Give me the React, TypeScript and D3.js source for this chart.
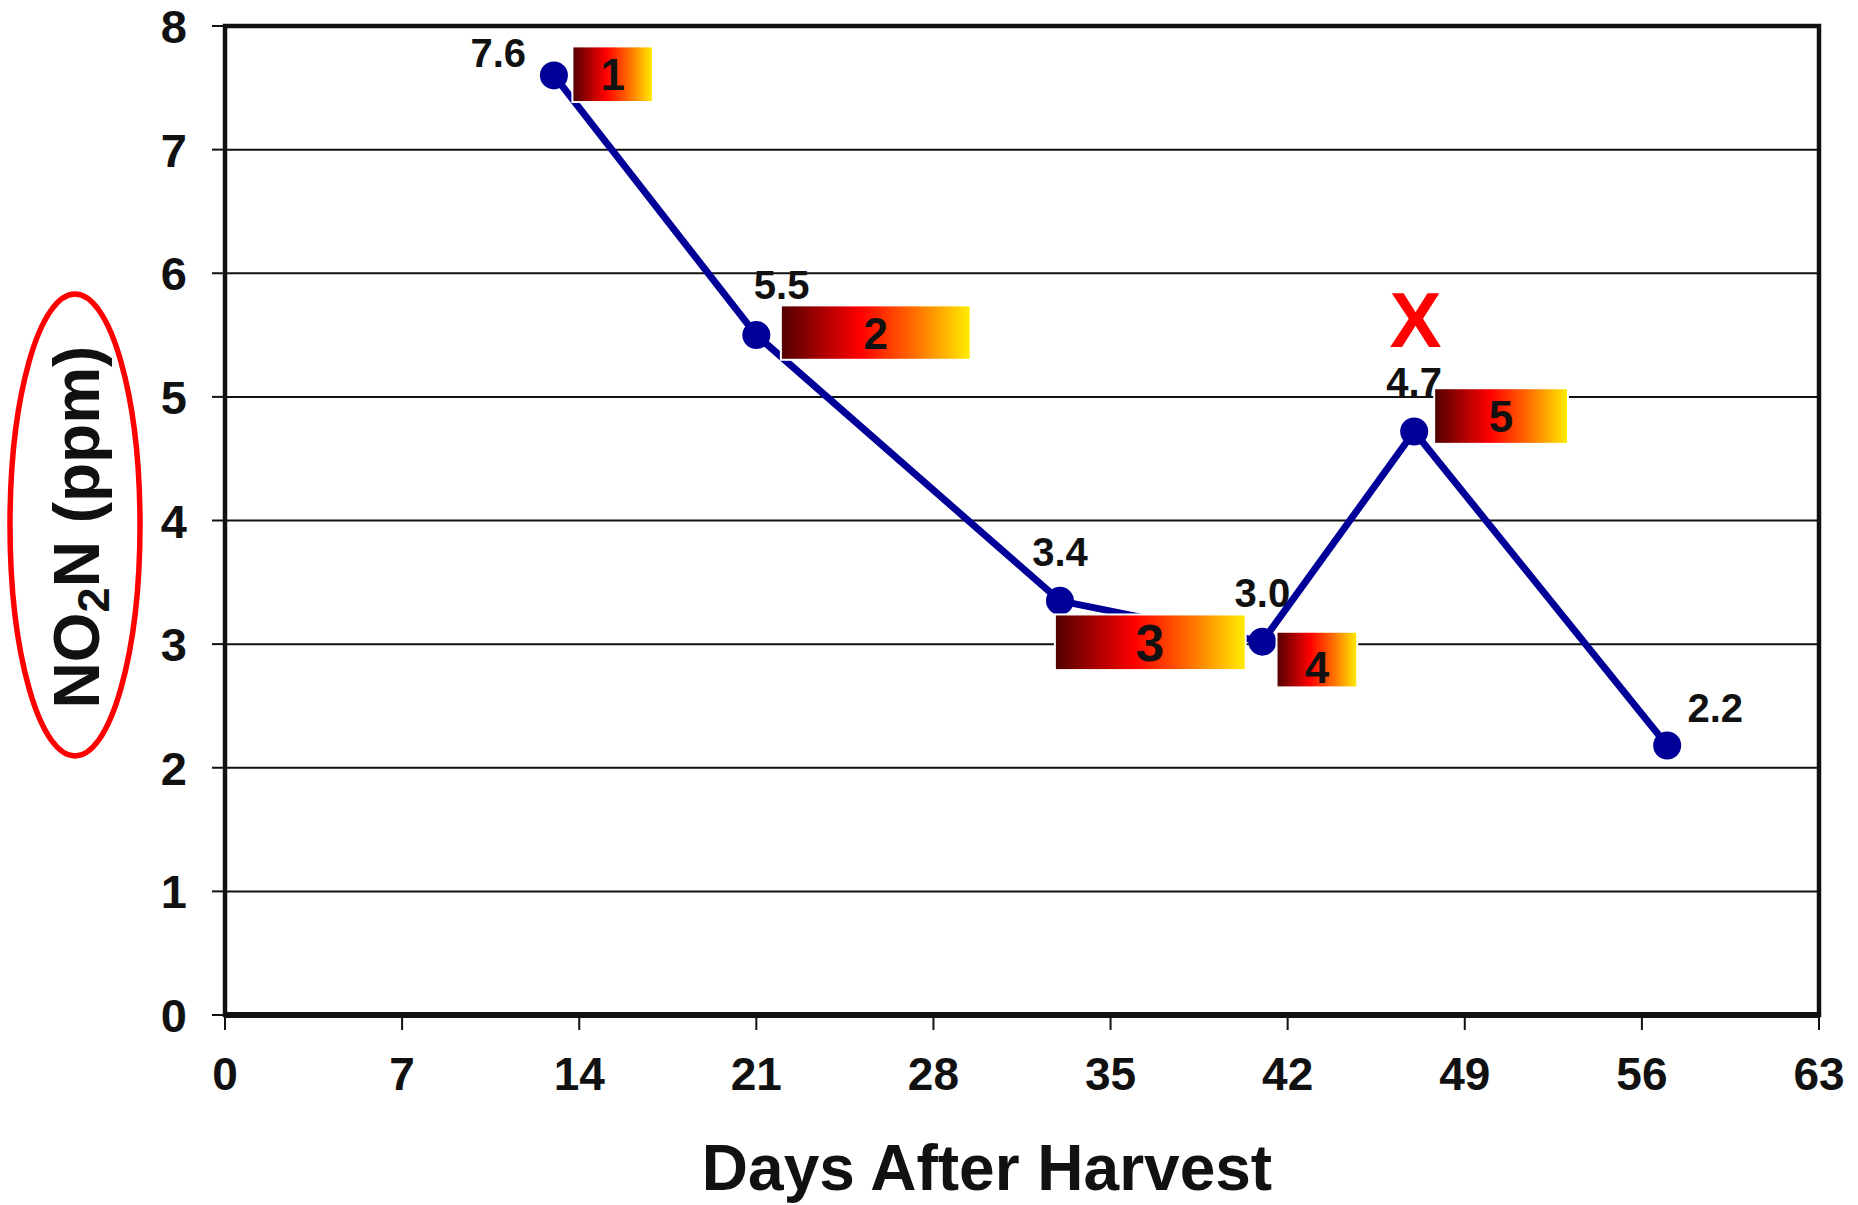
import * as d3 from "d3";

// NO2-N readings after harvest
const days = [13, 21, 33, 41, 47, 57];
const no2n = [7.6, 5.5, 3.35, 3.02, 4.72, 2.18];
const valueLabels = ["7.6", "5.5", "3.4", "3.0", "4.7", "2.2"];
// where each value label sits (data units)
const labelDays = [10.8, 22.0, 33.0, 41.0, 47.0, 58.9];
const labelPpm = [7.67, 5.79, 3.63, 3.3, 5.01, 2.37];

// numbered gradient boxes (data units)
const boxNames = ["1", "2", "3", "4", "5"];
const boxX0 = [13.73, 21.97, 32.8, 41.56, 47.79];
const boxX1 = [16.91, 29.47, 40.34, 44.75, 53.08];
const boxTop = [7.835, 5.74, 3.24, 3.1, 5.07];
const boxBottom = [7.385, 5.3, 2.79, 2.65, 4.62];

const xTicks = [0, 7, 14, 21, 28, 35, 42, 49, 56, 63];
const yTicks = [0, 1, 2, 3, 4, 5, 6, 7, 8];

const W = 1858;
const H = 1205;
const FONT = "'Liberation Sans', Arial, sans-serif";

export default function App() {
  const x = d3.scaleLinear().domain([0, 63]).range([225, 1819]);
  const y = d3.scaleLinear().domain([0, 8]).range([1015, 26]);

  const pts = days.map((d, i) => ({ d, v: no2n[i] }));
  const line = d3
    .line<{ d: number; v: number }>()
    .x((p) => x(p.d))
    .y((p) => y(p.v));

  return (
    <svg
      width={W}
      height={H}
      style={{ position: "absolute", left: 0, top: 0, display: "block", background: "#fff" }}
      fontFamily={FONT}
      fontWeight="bold"
    >
      <defs>
        <linearGradient id="heat" x1="0" x2="1" y1="0" y2="0">
          <stop offset="0" stopColor="#500000" />
          <stop offset="0.42" stopColor="#ff0000" />
          <stop offset="0.72" stopColor="#ff7400" />
          <stop offset="1" stopColor="#ffef00" />
        </linearGradient>
      </defs>

      {/* grid lines */}
      {yTicks.slice(1, -1).map((t) => (
        <line key={t} x1={x(0)} x2={x(63)} y1={y(t)} y2={y(t)} stroke="#111" strokeWidth={2} />
      ))}

      {/* y ticks + labels */}
      {yTicks.map((t) => (
        <g key={t}>
          <line x1={x(0) - 13} x2={x(0)} y1={y(t)} y2={y(t)} stroke="#111" strokeWidth={2} />
          <text x={x(0) - 38} y={y(t) + 17} textAnchor="end" fontSize={47} fill="#111">
            {t}
          </text>
        </g>
      ))}

      {/* x ticks + labels */}
      {xTicks.map((t) => (
        <g key={t}>
          <line x1={x(t)} x2={x(t)} y1={y(0)} y2={y(0) + 15} stroke="#111" strokeWidth={2} />
          <text x={x(t)} y={1090} textAnchor="middle" fontSize={46} fill="#111">
            {t}
          </text>
        </g>
      ))}

      {/* plot frame */}
      <rect
        x={x(0)}
        y={y(8)}
        width={x(63) - x(0)}
        height={y(0) - y(8)}
        fill="none"
        stroke="#111"
        strokeWidth={4.5}
      />
      <line x1={x(0)} x2={x(63)} y1={y(0)} y2={y(0)} stroke="#111" strokeWidth={6} />

      {/* series */}
      <path d={line(pts) ?? ""} fill="none" stroke="#000099" strokeWidth={7} />
      {pts.map((p, i) => (
        <circle key={i} cx={x(p.d)} cy={y(p.v)} r={14} fill="#000099" />
      ))}

      {/* value labels */}
      {valueLabels.map((s, i) => (
        <text key={s} x={x(labelDays[i])} y={y(labelPpm[i])} textAnchor="middle" fontSize={40} fill="#111">
          {s}
        </text>
      ))}

      {/* numbered boxes */}
      {boxNames.map((n, i) => (
        <g key={n}>
          <rect
            x={x(boxX0[i])}
            y={y(boxTop[i])}
            width={x(boxX1[i]) - x(boxX0[i])}
            height={y(boxBottom[i]) - y(boxTop[i])}
            fill="url(#heat)"
            stroke="#fff"
            strokeWidth={2}
          />
          <text
            x={(x(boxX0[i]) + x(boxX1[i])) / 2}
            y={(y(boxTop[i]) + y(boxBottom[i])) / 2 + (n === "4" ? 23 : n === "3" ? 19 : 16)}
            textAnchor="middle"
            fontSize={n === "3" ? 52 : 44}
            fill="#111"
          >
            {n}
          </text>
        </g>
      ))}

      {/* red X above the 4.7 point */}
      <text x={x(47.05)} y={y(5.4)} textAnchor="middle" fontSize={78} fill="#ff0000">
        X
      </text>

      {/* y-axis title with red ellipse */}
      <ellipse cx={75} cy={525} rx={65} ry={231} fill="none" stroke="#ff0000" strokeWidth={5.5} />
      <text transform="translate(99,527) rotate(-90)" textAnchor="middle" fontSize={64} fill="#111">
        NO
        <tspan fontSize={45} dy={10}>
          2
        </tspan>
        <tspan dy={-10}>N (ppm)</tspan>
      </text>

      {/* x-axis title */}
      <text x={987} y={1190} textAnchor="middle" fontSize={64} fill="#111">
        Days After Harvest
      </text>
    </svg>
  );
}
